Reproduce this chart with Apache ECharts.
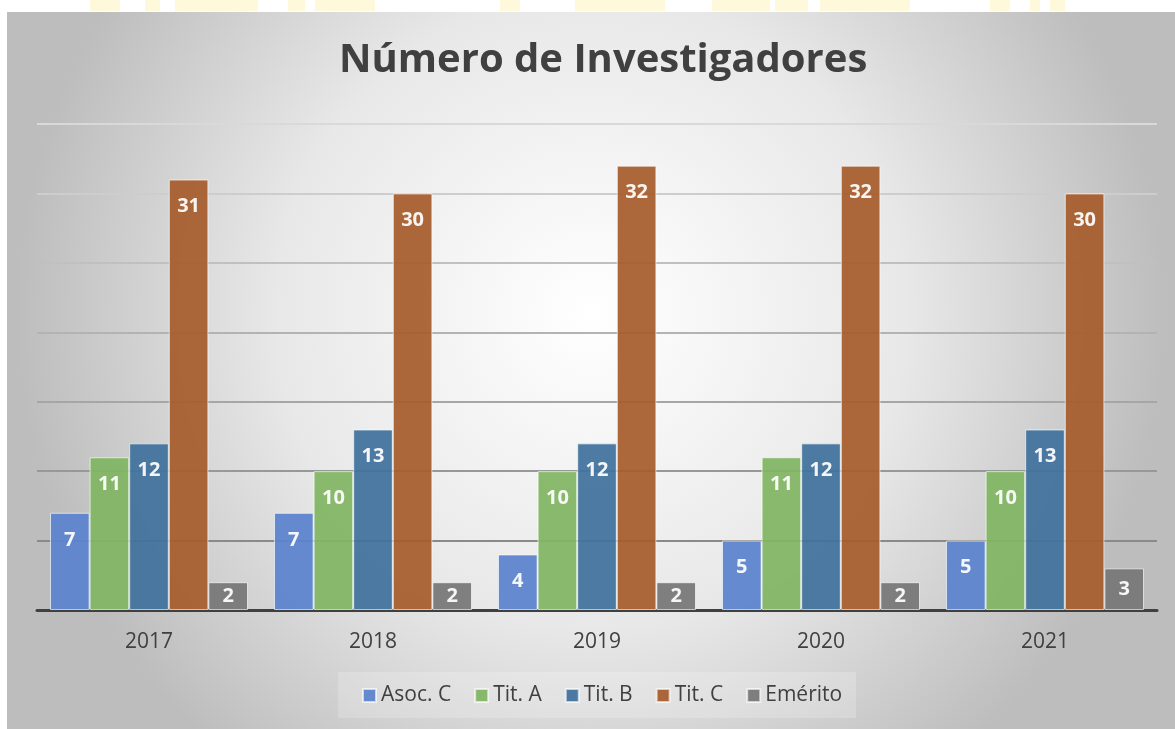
<!DOCTYPE html>
<html>
<head>
<meta charset="utf-8">
<title>Número de Investigadores</title>
<script src="https://cdn.jsdelivr.net/npm/echarts@6/dist/echarts.min.js"></script>
<style>
  html, body { margin: 0; padding: 0; background: #fff; }
  #chart { width: 1175px; height: 729px; }
</style>
</head>
<body>
<div id="chart"></div>
<script>
// datos
var years = ['2017', '2018', '2019', '2020', '2021'];
var seriesNames = ['Asoc. C', 'Tit. A', 'Tit. B', 'Tit. C', 'Emérito'];
var asocC = [7, 7, 4, 5, 5];
var titA = [11, 10, 10, 11, 10];
var titB = [12, 13, 12, 12, 13];
var titC = [31, 30, 32, 32, 30];
var emerito = [2, 2, 2, 2, 3];
var colors = ['#5b82cc', '#80b562', '#41719c', '#a65c2b', '#767676'];

var allValues = [asocC, titA, titB, titC, emerito];

var myChart = echarts.init(document.getElementById('chart'));

// etiquetas: las barras bajas llevan la etiqueta centrada
function buildData(arr) {
    return arr.map(function (v) {
        return {
            value: v,
            label: { position: v < 4 ? 'inside' : 'insideTop', distance: 17 }
        };
    });
}

var series = seriesNames.map(function (name, i) {
    return {
        name: name,
        type: 'bar',
        barGap: '0%',
        barCategoryGap: '11.6%',
        itemStyle: {
            color: colors[i],
            opacity: 0.93,
            borderColor: 'rgba(255,255,255,0.7)',
            borderWidth: 1
        },
        label: {
            show: true,
            color: '#ffffff',
            fontFamily: 'Open Sans',
            fontWeight: 'bold',
            fontSize: 20
        },
        z: 3,
        data: buildData(allValues[i])
    };
});

// restos amarillos de la cabecera (marca de agua cortada)
var marca = [[90, 30], [145, 15], [175, 83], [288, 17], [315, 60], [500, 20], [575, 90], [712, 58], [775, 33], [820, 90], [990, 20], [1030, 10], [1050, 15]];
var graficos = marca.map(function (m) {
    return {
        type: 'rect',
        z: -10,
        shape: { x: m[0], y: 0, width: m[1], height: 11 },
        style: { fill: '#fff9dc' },
        silent: true
    };
});

graficos.push({
    type: 'rect',
    z: -10,
    shape: { x: 7, y: 12, width: 1168, height: 717 },
    style: {
        fill: new echarts.graphic.RadialGradient(0.5, 0.42, 0.8, [
            { offset: 0, color: '#ffffff' },
            { offset: 0.55, color: '#e8e8e8' },
            { offset: 1, color: '#bdbdbd' }
        ])
    },
    silent: true
});
graficos.push({
    type: 'rect',
    z: -9,
    shape: { x: 338, y: 672, width: 518, height: 46 },
    style: { fill: 'rgba(255,255,255,0.2)' },
    silent: true
});

var option = {
    animation: false,
    graphic: graficos,
    title: {
        text: 'Número de Investigadores',
        left: 334,
        top: 36,
        textStyle: {
            fontFamily: 'Open Sans',
            fontWeight: 'bold',
            fontSize: 40,
            color: '#404040'
        }
    },
    legend: {
        data: seriesNames,
        bottom: 18,
        left: 357,
        itemWidth: 13,
        itemHeight: 13,
        itemGap: 23,
        icon: 'rect',
        textStyle: { fontFamily: 'Open Sans', fontSize: 21, color: '#404040' }
    },
    grid: {
        left: 37,
        right: 18,
        top: 124,
        bottom: 119
    },
    xAxis: {
        type: 'category',
        data: years,
        axisLine: { lineStyle: { color: '#404040', width: 3 } },
        axisTick: { show: false },
        axisLabel: {
            margin: 22,
            fontFamily: 'Open Sans',
            fontSize: 21,
            color: '#404040'
        }
    },
    yAxis: {
        type: 'value',
        min: 0,
        max: 35,
        interval: 5,
        axisLabel: { show: false },
        axisLine: { show: false },
        axisTick: { show: false },
        splitLine: {
            lineStyle: {
                width: 2,
                color: ['#808080', '#8a8a8a', '#989898', '#a6a6a6', '#b3b3b3', '#c0c0c0', '#cdcdcd', '#d9d9d9']
            }
        }
    },
    series: series
};

myChart.setOption(option);
</script>
</body>
</html>
